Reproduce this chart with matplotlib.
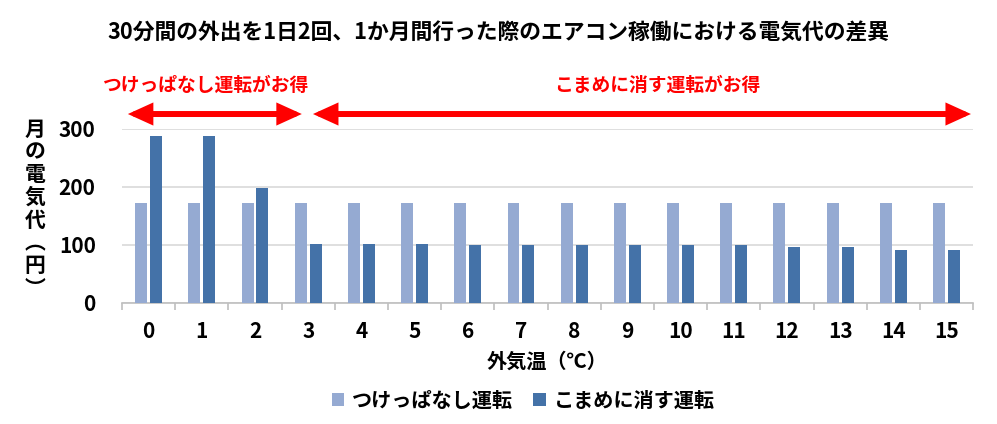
import matplotlib
matplotlib.use('Agg')
import matplotlib.pyplot as plt
from matplotlib.patches import FancyArrowPatch
import numpy as np

plt.rcParams['font.family'] = ['Noto Sans CJK JP', 'DejaVu Sans']
plt.rcParams['font.weight'] = 'bold'

temps = [str(t) for t in range(16)]
always_on = [173] * 16
on_off = [288, 288, 199, 102, 102, 102, 100, 100, 100, 100, 100, 100, 96, 96, 92, 92]
series_names = ['つけっぱなし運転', 'こまめに消す運転']
title = '30分間の外出を1日2回、1か月間行った際のエアコン稼働における電気代の差異'

light = '#95AAD2'
dark = '#4472A8'
red = '#FF0000'

fig = plt.figure(figsize=(9.97, 4.24), dpi=100)
ax = fig.add_axes([0.1224, 0.2854, 0.8536, 0.4104])

x = np.arange(len(temps))
w = 0.225
ax.bar(x - 0.14, always_on, w, color=light, label=series_names[0], zorder=3)
ax.bar(x + 0.14, on_off, w, color=dark, label=series_names[1], zorder=3)

ax.set_xlim(-0.5, 15.5)
ax.set_ylim(0, 300)
ax.set_yticks([0, 100, 200, 300])
ax.grid(axis='y', color='#d9d9d9', lw=1.2, zorder=0)
ax.set_xticks(x)
ax.set_xticklabels(temps)
ax.set_xticks(np.arange(-0.5, 16, 1), minor=True)
ax.tick_params(axis='x', which='major', length=0, pad=13, labelsize=15)
ax.tick_params(axis='x', which='minor', length=5, color='#bfbfbf', width=1.2)
ax.tick_params(axis='y', length=0, pad=19, labelsize=15)
for s in ['top', 'right', 'left']:
    ax.spines[s].set_visible(False)
ax.spines['bottom'].set_color('#bfbfbf')
ax.spines['bottom'].set_linewidth(1.2)

ax.set_xlabel('外気温（℃）', fontsize=14.5, fontweight='bold', labelpad=6)
fig.text(0.035, 0.507, '月\nの\n電\n気\n代\n︵\n円\n︶', fontsize=15, fontweight='bold',
         ha='center', va='center', linespacing=1.1)

fig.suptitle(title, x=0.5, y=0.922, va='center', fontsize=15.7, fontweight='bold')

# arrows and notes above the plot
trans = ax.get_xaxis_transform()
for x0, x1 in [(-0.39, 2.88), (3.09, 15.46)]:
    arr = FancyArrowPatch((x0, 1.086), (x1, 1.086), transform=trans,
                          arrowstyle='<|-|>,head_length=11,head_width=5',
                          mutation_scale=1, lw=4.3, color=red,
                          shrinkA=0, shrinkB=0, clip_on=False, joinstyle='miter')
    ax.add_patch(arr)
ax.text(1.08, 1.253, 'つけっぱなし運転がお得', transform=trans, color=red,
        fontsize=13.5, fontweight='bold', ha='center', va='center')
ax.text(9.56, 1.253, 'こまめに消す運転がお得', transform=trans, color=red,
        fontsize=13.5, fontweight='bold', ha='center', va='center')

fig.legend(loc='center', bbox_to_anchor=(0.525, 0.057), ncol=2, frameon=False,
           fontsize=14.5, handlelength=0.6, handleheight=0.6, handletextpad=0.4,
           columnspacing=1.0)

fig.savefig('out.png', dpi=100)
